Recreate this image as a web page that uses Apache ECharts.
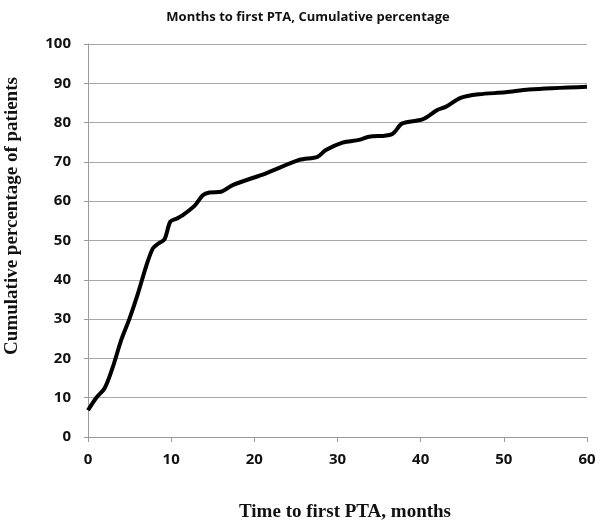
<!DOCTYPE html>
<html>
<head>
<meta charset="utf-8">
<script src="https://cdn.jsdelivr.net/npm/echarts@6/dist/echarts.min.js"></script>
<style>html,body{margin:0;padding:0;background:#fff}#c{width:600px;height:527px}</style>
</head>
<body>
<div id="c"></div>
<script>
const months = [0, 1, 2, 3, 4, 5, 6, 7, 7.8, 8.5, 9.2, 9.9, 10.7, 11.3, 12.8, 13.8, 14.6, 16, 17.4, 21.4, 25.4, 27.6, 28.6, 30.6, 32.6, 33.8, 36.5, 37.8, 40.2, 42, 43, 44.8, 47, 50.2, 53, 60];
const cumulativePct = [6.8, 10, 12.4, 17.9, 24.7, 30.2, 36.5, 43.5, 48, 49.3, 50.3, 54.8, 55.6, 56.3, 58.8, 61.5, 62.2, 62.4, 64.1, 67.1, 70.5, 71.3, 73, 74.9, 75.6, 76.4, 77, 79.8, 80.8, 83.2, 84, 86.3, 87.2, 87.7, 88.4, 89.1];
const xTicks = [0, 10, 20, 30, 40, 50, 60];
const yTicks = [0, 10, 20, 30, 40, 50, 60, 70, 80, 90, 100];
const titleText = 'Months to first PTA, Cumulative percentage';
const xName = 'Time to first PTA, months';
const yName = 'Cumulative percentage of patients';

const chart = echarts.init(document.getElementById('c'), null, {renderer: 'canvas'});
const sans = '"Open Sans", Arial, sans-serif';
const serif = '"Liberation Serif", "DejaVu Serif", serif';
chart.setOption({
  animation: false,
  backgroundColor: '#fff',
  title: {
    text: titleText,
    left: 303, top: 6, textAlign: 'center',
    textStyle: {fontFamily: sans, fontWeight: 'bold', fontSize: 13, color: '#111'}
  },
  grid: {left: 88, right: 13, top: 44, bottom: 90, containLabel: false, outerBoundsMode: 'none'},
  graphic: [
    {
      type: 'text', x: 345, y: 512,
      style: {text: xName, font: 'bold 19px ' + serif, fill: '#111', textAlign: 'center', textVerticalAlign: 'middle'}
    },
    {
      type: 'text', x: 12, y: 216, rotation: Math.PI / 2,
      style: {text: yName, font: 'bold 19px ' + serif, fill: '#111', textAlign: 'center', textVerticalAlign: 'middle'}
    }
  ],
  xAxis: {
    type: 'value', min: xTicks[0], max: xTicks[xTicks.length - 1], interval: 10,
    axisLine: {lineStyle: {color: '#9a9a9a', width: 1}},
    axisTick: {show: true, length: 5, lineStyle: {color: '#9a9a9a'}},
    axisLabel: {fontFamily: sans, fontWeight: 'bold', fontSize: 15, color: '#111', margin: 15},
    splitLine: {show: false}
  },
  yAxis: {
    type: 'value', min: yTicks[0], max: yTicks[yTicks.length - 1], interval: 10,
    axisLine: {show: true, lineStyle: {color: '#9a9a9a', width: 1}},
    axisTick: {show: true, length: 4, lineStyle: {color: '#9a9a9a'}},
    axisLabel: {fontFamily: sans, fontWeight: 'bold', fontSize: 15, color: '#111', margin: 17},
    splitLine: {show: true, lineStyle: {color: '#a8a8a8', width: 1}}
  },
  series: [{
    type: 'line',
    data: months.map((m, i) => [m, cumulativePct[i]]),
    smooth: 0.3,
    showSymbol: false,
    lineStyle: {color: '#000', width: 4}
  }]
});
</script>
</body>
</html>
